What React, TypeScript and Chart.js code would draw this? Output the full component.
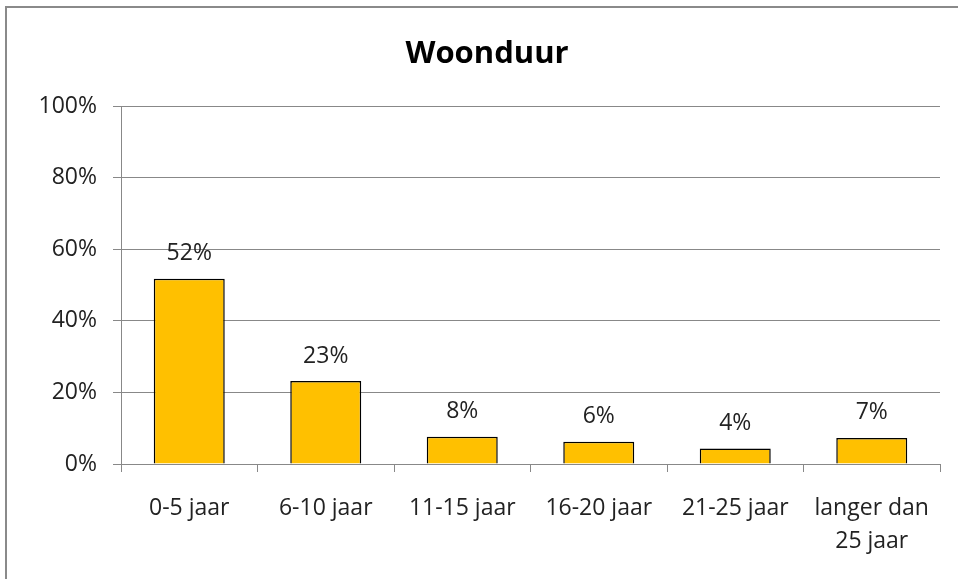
import React, { useEffect, useRef } from "react";
import { Chart, registerables } from "chart.js";

Chart.register(...registerables);

const title = "Woonduur";
const categories: (string | string[])[] = [
  "0-5 jaar",
  "6-10 jaar",
  "11-15 jaar",
  "16-20 jaar",
  "21-25 jaar",
  ["langer dan", "25 jaar"],
];
const values = [51.8, 23.2, 7.6, 6.2, 4.3, 7.3];
const yTicks = [0, 20, 40, 60, 80, 100];

const FONT = "'Open Sans', 'DejaVu Sans', sans-serif";

const valueLabels = {
  id: "valueLabels",
  afterDatasetsDraw(chart: any) {
    const ctx = chart.ctx;
    const meta = chart.getDatasetMeta(0);
    ctx.save();
    ctx.font = `23px ${FONT}`;
    ctx.fillStyle = "#222";
    ctx.textAlign = "center";
    ctx.textBaseline = "middle";
    meta.data.forEach((bar: any, i: number) => {
      ctx.fillText(Math.round(values[i]) + "%", bar.x, bar.y - 25);
    });
    ctx.restore();
  },
};

export default function App() {
  const ref = useRef<HTMLCanvasElement | null>(null);
  useEffect(() => {
    if (!ref.current) return;
    const chart = new Chart(ref.current, {
      type: "bar",
      data: {
        labels: categories as any,
        datasets: [
          {
            data: values,
            backgroundColor: "#FFC000",
            borderColor: "#000",
            borderWidth: 1.5,
            barPercentage: 0.52,
            categoryPercentage: 1,
          },
        ],
      },
      options: {
        animation: false,
        responsive: false,
        maintainAspectRatio: false,
        layout: { padding: { left: 34, right: 18, top: 0, bottom: 0 } },
        plugins: {
          legend: { display: false },
          tooltip: { enabled: false },
          title: {
            display: true,
            text: title,
            color: "#000",
            font: { family: FONT, size: 31, weight: "bold", lineHeight: 1.2 },
            padding: { top: 36, bottom: 33 },
          },
        },
        scales: {
          x: {
            grid: {
              display: true,
              drawOnChartArea: false,
              drawTicks: true,
              tickLength: 8,
              offset: true,
              color: "#888",
            },
            border: { display: true, color: "#888", width: 1 },
            ticks: {
              color: "#222",
              font: { family: FONT, size: 23, lineHeight: 1.43 },
              padding: 20,
              maxRotation: 0,
              autoSkip: false,
            },
            afterFit(scale: any) {
              scale.height = 115;
            },
          },
          y: {
            min: 0,
            max: 100,
            afterBuildTicks(scale: any) {
              scale.ticks = yTicks.map((v) => ({ value: v }));
            },
            grid: {
              color: "#888",
              tickLength: 8,
              drawTicks: true,
            },
            border: { display: true, color: "#888", width: 1 },
            ticks: {
              color: "#222",
              font: { family: FONT, size: 23 },
              padding: 16,
              callback: (v: any) => v + "%",
            },
            afterFit(scale: any) {
              scale.width = 87;
            },
          },
        },
      },
      plugins: [valueLabels],
    });
    return () => chart.destroy();
  }, []);

  return (
    <div
      style={{
        position: "fixed",
        left: 0,
        top: 0,
        width: 958,
        height: 579,
        background: "#fff",
        overflow: "hidden",
      }}
    >
      <div
        style={{
          position: "absolute",
          left: 5,
          top: 6,
          width: 1000,
          height: 1000,
          borderLeft: "2.5px solid #8a8a8a",
          borderTop: "2.5px solid #8a8a8a",
        }}
      />
      <canvas
        ref={ref}
        width={958}
        height={579}
        style={{ position: "absolute", left: 0, top: 0, width: 958, height: 579 }}
      />
    </div>
  );
}
